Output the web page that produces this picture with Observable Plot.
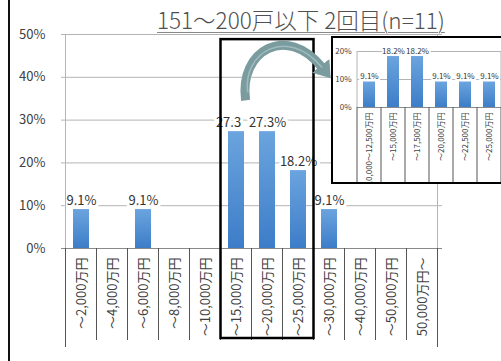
<!DOCTYPE html>
<html><head><meta charset="utf-8">
<script src="https://cdn.jsdelivr.net/npm/d3@7"></script>
<script src="https://cdn.jsdelivr.net/npm/@observablehq/plot@0.6"></script>
<style>
html,body{margin:0;padding:0;}
body{width:501px;height:361px;overflow:hidden;background:#fff;position:relative;font-family:"Noto Sans CJK JP","Noto Sans",sans-serif;}
#leftline{position:absolute;left:8px;top:0;width:2px;height:361px;background:#111;}
#main{position:absolute;left:0;top:0;}
#title{position:absolute;left:157px;top:7px;font-size:22.5px;line-height:24px;color:#505050;font-weight:300;white-space:nowrap;text-decoration:underline;text-decoration-color:#888;text-decoration-thickness:1px;text-underline-offset:3px;}
#inset{position:absolute;left:331px;top:36px;width:200px;height:144px;border:2px solid #000;background:#fff;overflow:hidden;z-index:2;}
#overlay{position:absolute;left:0;top:0;z-index:3;pointer-events:none;}
</style></head>
<body>
<svg width="0" height="0" style="position:absolute"><defs>
<linearGradient id="barGrad" x1="0" x2="0" y1="0" y2="1">
<stop offset="0%" stop-color="#6ba4de"/><stop offset="100%" stop-color="#3d7dc8"/>
</linearGradient></defs></svg>
<div id="leftline"></div>
<div id="main"></div>
<div id="title"></div>
<div id="inset"></div>
<script>
const title = "151～200戸以下 2回目(n=11)";
const categories = ["～2,000万円","～4,000万円","～6,000万円","～8,000万円","～10,000万円","～15,000万円","～20,000万円","～25,000万円","～30,000万円","～40,000万円","～50,000万円","50,000万円～"];
const shares = [9.1, 0, 9.1, 0, 0, 27.3, 27.3, 18.2, 9.1, 0, 0, 0];
const shareLabels = ["9.1%", "", "9.1%", "", "", "27.3", "27.3%", "18.2%", "9.1%", "", "", ""];
const yTicks = [0, 10, 20, 30, 40, 50];
const highlighted = ["～15,000万円","～20,000万円","～25,000万円"];
const insetCategories = ["10,000～12,500万円","～15,000万円","～17,500万円","～20,000万円","～22,500万円","～25,000万円"];
const insetShares = [9.1, 18.2, 18.2, 9.1, 9.1, 9.1];
const insetTicks = [0, 10, 20];

const FONT = '"Noto Sans CJK JP","Noto Sans",sans-serif';
const pct = d => d.toFixed(1) + "%";

document.getElementById("title").textContent = title;

const data = categories.map((c, i) => ({c, v: shares[i], t: shareLabels[i], i}));
const labelled = data.filter(d => d.t !== "");
const crowded = labelled.filter(d => !d.t.endsWith("%"));
const normal = labelled.filter(d => d.t.endsWith("%"));
const textOpts = {x: "c", y: "v", text: "t", lineAnchor: "bottom", dy: -5, fontSize: 13, fill: "#333", stroke: "white", strokeWidth: 6, paintOrder: "stroke"};

const main = Plot.plot({
  width: 501, height: 361,
  marginTop: 34, marginBottom: 113, marginLeft: 61, marginRight: 59,
  style: {fontFamily: FONT, fontSize: "13px", color: "#404040", background: "transparent", overflow: "visible"},
  x: {domain: categories, paddingInner: 0.5, paddingOuter: 0.25, label: null, tickSize: 0, tickRotate: -90, tickPadding: 9},
  y: {domain: [0, 50], ticks: yTicks, tickFormat: d => d + "%", label: null, tickSize: 0, tickPadding: 16},
  marks: [
    Plot.ruleY(yTicks.slice(1), {stroke: "#b4b4b4", strokeWidth: 1}),
    Plot.barY(data, {x: "c", y: "v", fill: "url(#barGrad)"}),
    Plot.ruleY([0], {stroke: "#8a8a8a"}),
    Plot.text(crowded, {...textOpts, dx: -8}),
    Plot.text(normal, textOpts)
  ]
});
document.getElementById("main").appendChild(main);

function decorate(svgNode, xs, ys, cats, yTop, bottomOuter, bottomInner, frameColor, sepColor) {
  const svg = d3.select(svgNode);
  const step = xs.step, bw = xs.bandwidth;
  const bounds = cats.map(c => xs.apply(c) + bw / 2 - step / 2);
  bounds.push(bounds[bounds.length - 1] + step);
  const y0 = ys.apply(0), yT = ys.apply(yTop);
  const g = svg.append("g");
  [0, bounds.length - 1].forEach(i => {
    g.append("line").attr("x1", bounds[i]).attr("x2", bounds[i]).attr("y1", yT).attr("y2", y0).attr("stroke", frameColor);
  });
  bounds.forEach((b, i) => {
    const outer = i === 0 || i === bounds.length - 1;
    g.append("line").attr("x1", b).attr("x2", b).attr("y1", y0).attr("y2", outer ? bottomOuter : bottomInner).attr("stroke", sepColor);
  });
  return bounds;
}

const xs = main.scale("x"), ys = main.scale("y");
const bounds = decorate(main, xs, ys, categories, 50, 347, 340, "#b4b4b4", "#555");

// Inset chart
const idata = insetCategories.map((c, i) => ({c, v: insetShares[i]}));
const inset = Plot.plot({
  width: 168, height: 144,
  marginTop: 13, marginBottom: 75, marginLeft: 24, marginRight: 0,
  style: {fontFamily: FONT, fontSize: "8px", color: "#404040", background: "transparent", overflow: "visible"},
  x: {domain: insetCategories, paddingInner: 0.5, paddingOuter: 0.25, label: null, tickSize: 0, tickRotate: -90, tickPadding: 5},
  y: {domain: [0, 20], ticks: insetTicks, tickFormat: d => d + "%", label: null, tickSize: 0, tickPadding: 6},
  marks: [
    Plot.ruleY(insetTicks.slice(1), {stroke: "#b4b4b4", strokeWidth: 1}),
    Plot.barY(idata, {x: "c", y: "v", fill: "url(#barGrad)"}),
    Plot.ruleY([0], {stroke: "#8a8a8a"}),
    Plot.text(idata, {x: "c", y: "v", text: d => pct(d.v), lineAnchor: "bottom", dy: -3, fontSize: 8, fill: "#333", stroke: "white", strokeWidth: 4, paintOrder: "stroke"})
  ]
});
document.getElementById("inset").appendChild(inset);
decorate(inset, inset.scale("x"), inset.scale("y"), insetCategories, 20, 150, 150, "#b4b4b4", "#555");

// Overlay: highlight box and arrow
const ov = d3.select("body").append("svg").attr("id", "overlay").attr("width", 501).attr("height", 361);
const i0 = categories.indexOf(highlighted[0]);
const i1 = categories.indexOf(highlighted[highlighted.length - 1]) + 1;
ov.append("rect")
  .attr("x", bounds[i0]).attr("y", ys.apply(48.8))
  .attr("width", bounds[i1] - bounds[i0]).attr("height", 338 - ys.apply(48.8))
  .attr("fill", "none").attr("stroke", "#000").attr("stroke-width", 2.5);

const sx = xs.apply(highlighted[0]) + xs.bandwidth * 1.1;
const sy = ys.apply(34.5);
const ex = 322, ey = ys.apply(42.2);
ov.append("defs").append("marker").attr("id", "ah").attr("markerUnits", "userSpaceOnUse")
  .attr("markerWidth", 22).attr("markerHeight", 24).attr("refX", 2).attr("refY", 12).attr("orient", "auto")
  .append("path").attr("d", "M0,1 L16,12 L0,23 Z").attr("fill", "#7b9c9f");
ov.append("path")
  .attr("d", `M${sx},${sy} C${sx - 7},${sy - 50} ${ex - 35},${ey - 44} ${ex},${ey}`)
  .attr("fill", "none").attr("stroke", "#7b9c9f").attr("stroke-width", 9).attr("marker-end", "url(#ah)");
ov.append("path")
  .attr("d", `M${sx + 2},${sy - 8} C${sx - 3},${sy - 48} ${ex - 35},${ey - 42} ${ex},${ey}`)
  .attr("fill", "none").attr("stroke", "#b9d0d2").attr("stroke-width", 1.5).attr("opacity", 0.6);
</script>
</body></html>
